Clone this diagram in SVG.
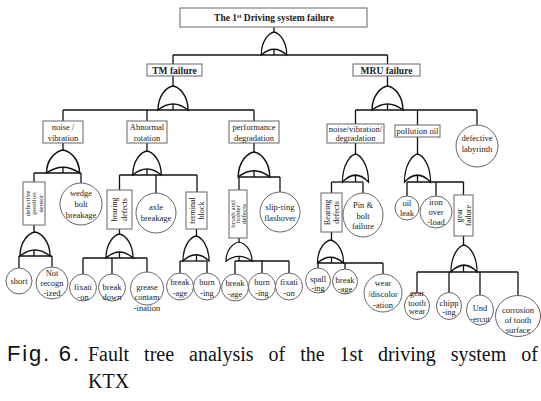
<svg xmlns="http://www.w3.org/2000/svg" xmlns:xlink="http://www.w3.org/1999/xlink" width="541" height="401" viewBox="0 0 541 401">
<defs>
<style>
.box{fill:#fff;stroke:#666;stroke-width:1}
.circ{fill:#fff;stroke:#666;stroke-width:1}
.gate{fill:#fff;stroke:#111;stroke-width:1.4}
#connectors line{stroke:#111;stroke-width:1.3}
text{font-family:'Liberation Serif','Tinos','DejaVu Serif',serif;fill:#1a1a1a;font-size:8.5px;text-anchor:middle}
.b{font-weight:bold;font-size:9.5px}
.v{font-size:8px}
.s{font-size:7px}
.cap{font-size:20px;text-anchor:start;fill:#111}
.fig{font-family:'Liberation Sans',Arial,sans-serif;font-size:22px;text-anchor:start;fill:#111}
</style>
<path id="or" d="M -15,24 C -15,9 -6,1 0,0 C 6,1 15,9 15,24 Q 0,12 -15,24 Z"/>
</defs>
<rect width="541" height="401" fill="#fff"/>

<g id="connectors">
<line x1="274" y1="27" x2="274" y2="55"/>
<line x1="173" y1="55" x2="387.5" y2="55"/>
<line x1="173" y1="55" x2="173" y2="64"/>
<line x1="387.5" y1="55" x2="387.5" y2="64"/>
<line x1="173" y1="76" x2="173" y2="110"/>
<line x1="63" y1="110" x2="254" y2="110"/>
<line x1="63" y1="110" x2="63" y2="121"/>
<line x1="147" y1="110" x2="147" y2="121"/>
<line x1="254" y1="110" x2="254" y2="121"/>
<line x1="387.5" y1="76" x2="387.5" y2="110"/>
<line x1="355.5" y1="110" x2="477" y2="110"/>
<line x1="355.5" y1="110" x2="355.5" y2="124"/>
<line x1="417.5" y1="110" x2="417.5" y2="125"/>
<line x1="477" y1="110" x2="477" y2="125"/>
<line x1="63" y1="143" x2="63" y2="173"/>
<line x1="34" y1="173" x2="81" y2="173"/>
<line x1="34" y1="173" x2="34" y2="182"/>
<line x1="81" y1="173" x2="81" y2="183"/>
<line x1="147" y1="143" x2="147" y2="175"/>
<line x1="119.5" y1="175" x2="197" y2="175"/>
<line x1="119.5" y1="175" x2="119.5" y2="190"/>
<line x1="156" y1="175" x2="156" y2="193"/>
<line x1="197" y1="175" x2="197" y2="192"/>
<line x1="254" y1="143" x2="254" y2="177"/>
<line x1="239" y1="177" x2="280" y2="177"/>
<line x1="239" y1="177" x2="239" y2="190"/>
<line x1="280" y1="177" x2="280" y2="192"/>
<line x1="355.5" y1="143" x2="355.5" y2="182"/>
<line x1="331.5" y1="182" x2="363" y2="182"/>
<line x1="331.5" y1="182" x2="331.5" y2="193"/>
<line x1="363" y1="182" x2="363" y2="194"/>
<line x1="417.5" y1="137" x2="417.5" y2="182"/>
<line x1="407" y1="182" x2="463.5" y2="182"/>
<line x1="407" y1="182" x2="407" y2="196"/>
<line x1="436" y1="182" x2="436" y2="196"/>
<line x1="463.5" y1="182" x2="463.5" y2="195"/>
<line x1="34" y1="225" x2="34" y2="256"/>
<line x1="19" y1="256" x2="52" y2="256"/>
<line x1="19" y1="256" x2="19" y2="268"/>
<line x1="52" y1="256" x2="52" y2="267"/>
<line x1="119.5" y1="229" x2="119.5" y2="258"/>
<line x1="83" y1="258" x2="147" y2="258"/>
<line x1="83" y1="258" x2="83" y2="274"/>
<line x1="112" y1="258" x2="112" y2="274"/>
<line x1="147" y1="258" x2="147" y2="272"/>
<line x1="196.5" y1="229" x2="196.5" y2="261"/>
<line x1="180" y1="261" x2="207" y2="261"/>
<line x1="180" y1="261" x2="180" y2="273"/>
<line x1="207" y1="261" x2="207" y2="273"/>
<line x1="239" y1="238" x2="239" y2="261"/>
<line x1="235" y1="261" x2="289" y2="261"/>
<line x1="235" y1="261" x2="235" y2="274"/>
<line x1="262" y1="261" x2="262" y2="273"/>
<line x1="289" y1="261" x2="289" y2="273"/>
<line x1="331.5" y1="232" x2="331.5" y2="263"/>
<line x1="318" y1="263" x2="318" y2="268"/>
<line x1="318" y1="263" x2="383" y2="263"/>
<line x1="345" y1="263" x2="345" y2="269"/>
<line x1="383" y1="263" x2="383" y2="274"/>
<line x1="463.5" y1="236" x2="463.5" y2="272"/>
<line x1="417" y1="272" x2="518" y2="272"/>
<line x1="417" y1="272" x2="417" y2="293"/>
<line x1="449" y1="272" x2="449" y2="293"/>
<line x1="480" y1="272" x2="480" y2="295"/>
<line x1="518" y1="272" x2="518" y2="296"/>
</g>

<g id="gates">
<use xlink:href="#or" class="gate" transform="translate(274 32) scale(0.85 0.96)"/>
<use xlink:href="#or" class="gate" transform="translate(173 86) scale(1 1)"/>
<use xlink:href="#or" class="gate" transform="translate(387.5 86) scale(1.03 1)"/>
<use xlink:href="#or" class="gate" transform="translate(63 150) scale(1.1 0.96)"/>
<use xlink:href="#or" class="gate" transform="translate(147 151) scale(0.95 1)"/>
<use xlink:href="#or" class="gate" transform="translate(254 152) scale(1.05 1.04)"/>
<use xlink:href="#or" class="gate" transform="translate(355.5 154) scale(0.87 1.17)"/>
<use xlink:href="#or" class="gate" transform="translate(417.5 154) scale(0.87 1.17)"/>
<use xlink:href="#or" class="gate" transform="translate(35 232) scale(1 1)"/>
<use xlink:href="#or" class="gate" transform="translate(119.5 234) scale(0.9 1)"/>
<use xlink:href="#or" class="gate" transform="translate(196 236) scale(0.87 1.04)"/>
<use xlink:href="#or" class="gate" transform="translate(239 242) scale(0.87 0.8)"/>
<use xlink:href="#or" class="gate" transform="translate(330.5 240) scale(0.87 0.96)"/>
<use xlink:href="#or" class="gate" transform="translate(464 245) scale(0.87 1.12)"/>
</g>

<g id="n-top"><rect class="box" x="180" y="8" width="187" height="19"/>
<text class="b" x="274" y="21">The 1<tspan font-size="6" dy="-3.5">st</tspan><tspan dy="3.5"> Driving system failure</tspan></text></g>
<g id="n-tm"><rect class="box" x="147" y="64" width="55" height="12"/><text class="b" x="174.5" y="73.5">TM failure</text></g>
<g id="n-mru"><rect class="box" x="353" y="64" width="67" height="12"/><text class="b" x="386.5" y="73.5">MRU failure</text></g>

<g id="n-noise"><rect class="box" x="43" y="121" width="40" height="22"/><text x="63" y="130">noise /</text><text x="63" y="140.5">vibration</text></g>
<g id="n-abnormal"><rect class="box" x="127" y="121" width="40" height="22"/><text x="147" y="130">Abnormal</text><text x="147" y="140.5">rotation</text></g>
<g id="n-perf"><rect class="box" x="229" y="121" width="50" height="22"/><text x="254" y="130">performance</text><text x="254" y="140.5">degradation</text></g>
<g id="n-mnoise"><rect class="box" x="327" y="124" width="57" height="19"/><text x="355.5" y="132">noise/vibration/</text><text x="355.5" y="141">degradation</text></g>
<g id="n-pollution"><rect class="box" x="395" y="125" width="45" height="12"/><text x="417.5" y="134">pollution oil</text></g>
<g id="n-labyrinth"><circle class="circ" cx="477" cy="146" r="21"/><text x="477" y="141">defective</text><text x="477" y="152">labyrinth</text></g>

<g id="n-sensor"><rect class="box" x="23" y="182" width="22" height="43"/>
<text class="s" transform="translate(34 203.5) rotate(-90)"><tspan x="0" y="-4.5">defective</tspan><tspan x="0" y="2">position</tspan><tspan x="0" y="8.5">sensor</tspan></text></g>
<g id="n-wedge"><circle class="circ" cx="81" cy="204" r="21"/><text x="81" y="196">wedge</text><text x="81" y="207">bolt</text><text x="81" y="218">breakage</text></g>
<g id="n-bearing1"><rect class="box" x="107" y="190" width="25" height="39"/>
<text class="v" transform="translate(119.5 209.5) rotate(-90)"><tspan x="0" y="-2.5">bearing</tspan><tspan x="0" y="7">defects</tspan></text></g>
<g id="n-axle"><circle class="circ" cx="156" cy="213" r="20"/><text x="156" y="210">axle</text><text x="156" y="221">breakage</text></g>
<g id="n-terminal"><rect class="box" x="186" y="192" width="21" height="37"/>
<text class="v" transform="translate(196.5 210.5) rotate(-90)"><tspan x="0" y="-2">terminal</tspan><tspan x="0" y="7">block</tspan></text></g>
<g id="n-brush"><rect class="box" x="229" y="190" width="18" height="48"/>
<text class="s" transform="translate(238 214) rotate(-90)"><tspan x="0" y="-3.5">brush and</tspan><tspan x="0" y="2">holder</tspan><tspan x="0" y="7.5">defects</tspan></text></g>
<g id="n-slip"><circle class="circ" cx="280" cy="212" r="20"/><text x="280" y="210">slip-ring</text><text x="280" y="220.5">flashover</text></g>

<g id="n-bearing2"><rect class="box" x="321" y="193" width="21" height="39"/>
<text class="v" transform="translate(331.5 212.5) rotate(-90)"><tspan x="0" y="-2">Bearing</tspan><tspan x="0" y="7">defects</tspan></text></g>
<g id="n-pin"><ellipse class="circ" cx="363" cy="215" rx="20" ry="22"/><text x="363" y="208">Pin &amp;</text><text x="363" y="218.5">bolt</text><text x="363" y="229">failure</text></g>
<g id="n-oil"><circle class="circ" cx="407" cy="208" r="12"/><text x="407" y="206">oil</text><text x="407" y="216">leak</text></g>
<g id="n-iron"><circle class="circ" cx="436" cy="212" r="16"/><text x="436" y="205">iron</text><text x="436" y="215">over</text><text x="436" y="225">-load</text></g>
<g id="n-gear"><rect class="box" x="454" y="195" width="19" height="41"/>
<text class="v" transform="translate(463.5 215.5) rotate(-90)"><tspan x="0" y="-2">gear</tspan><tspan x="0" y="7">failure</tspan></text></g>

<g id="n-short"><circle class="circ" cx="19" cy="281" r="13"/><text x="19" y="284">short</text></g>
<g id="n-notrec"><circle class="circ" cx="52" cy="283" r="16"/><text x="52" y="276">Not</text><text x="52" y="286">recogn</text><text x="52" y="296">-ized</text></g>
<g id="n-fix1"><circle class="circ" cx="83" cy="287.5" r="13.5"/><text x="83" y="289.5">fixati</text><text x="83" y="300">-on</text></g>
<g id="n-breakdown"><circle class="circ" cx="112" cy="287.5" r="13.5"/><text x="112" y="289.5">break</text><text x="112" y="300">down</text></g>
<g id="n-grease"><circle class="circ" cx="147" cy="288.5" r="16.5"/><text x="147" y="290">grease</text><text x="147" y="300">contam</text><text x="147" y="310.5">-ination</text></g>
<g id="n-break1"><circle class="circ" cx="180" cy="286.5" r="13.5"/><text x="180" y="285">break</text><text x="180" y="295.5">-age</text></g>
<g id="n-burn1"><circle class="circ" cx="207" cy="286.5" r="13.5"/><text x="207" y="285">burn</text><text x="207" y="295.5">-ing</text></g>
<g id="n-break2"><circle class="circ" cx="235" cy="287.5" r="13.5"/><text x="235" y="286">break</text><text x="235" y="296.5">-age</text></g>
<g id="n-burn2"><circle class="circ" cx="262" cy="286.5" r="13.5"/><text x="262" y="285">burn</text><text x="262" y="295.5">-ing</text></g>
<g id="n-fix2"><circle class="circ" cx="289" cy="286.5" r="13.5"/><text x="289" y="285">fixati</text><text x="289" y="295.5">-on</text></g>
<g id="n-spall"><circle class="circ" cx="318" cy="280.5" r="12.5"/><text x="318" y="282">spall</text><text x="318" y="290.5">-ing</text></g>
<g id="n-break3"><circle class="circ" cx="345" cy="281.5" r="12.5"/><text x="345" y="283">break</text><text x="345" y="291.5">-age</text></g>
<g id="n-wear"><circle class="circ" cx="383" cy="293" r="19"/><text x="383" y="286">wear</text><text x="383" y="297">/discolor</text><text x="383" y="308">-ation</text></g>
<g id="n-tooth"><ellipse class="circ" cx="417" cy="306" rx="12.5" ry="13.5"/><text x="417" y="296">gear</text><text x="417" y="305.5">tooth</text><text x="417" y="314">wear</text></g>
<g id="n-chip"><ellipse class="circ" cx="449" cy="306" rx="12.5" ry="13.5"/><text x="449" y="306">chipp</text><text x="449" y="314.5">-ing</text></g>
<g id="n-und"><ellipse class="circ" cx="480" cy="310" rx="13.5" ry="15"/><text x="480" y="311">Und</text><text x="480" y="322">-ercut</text></g>
<g id="n-corr"><ellipse class="circ" cx="518" cy="316" rx="22.5" ry="20.5"/><text x="518" y="313">corrosion</text><text x="518" y="323">of tooth</text><text x="518" y="333">surface</text></g>

<g id="caption">
<text class="fig" x="7" y="361" textLength="72" lengthAdjust="spacing">Fig. 6.</text>
<text class="cap" x="88" y="361" word-spacing="10">Fault tree analysis of the 1st driving system of</text>
<text class="cap" x="88" y="388">KTX</text>
</g>
</svg>
